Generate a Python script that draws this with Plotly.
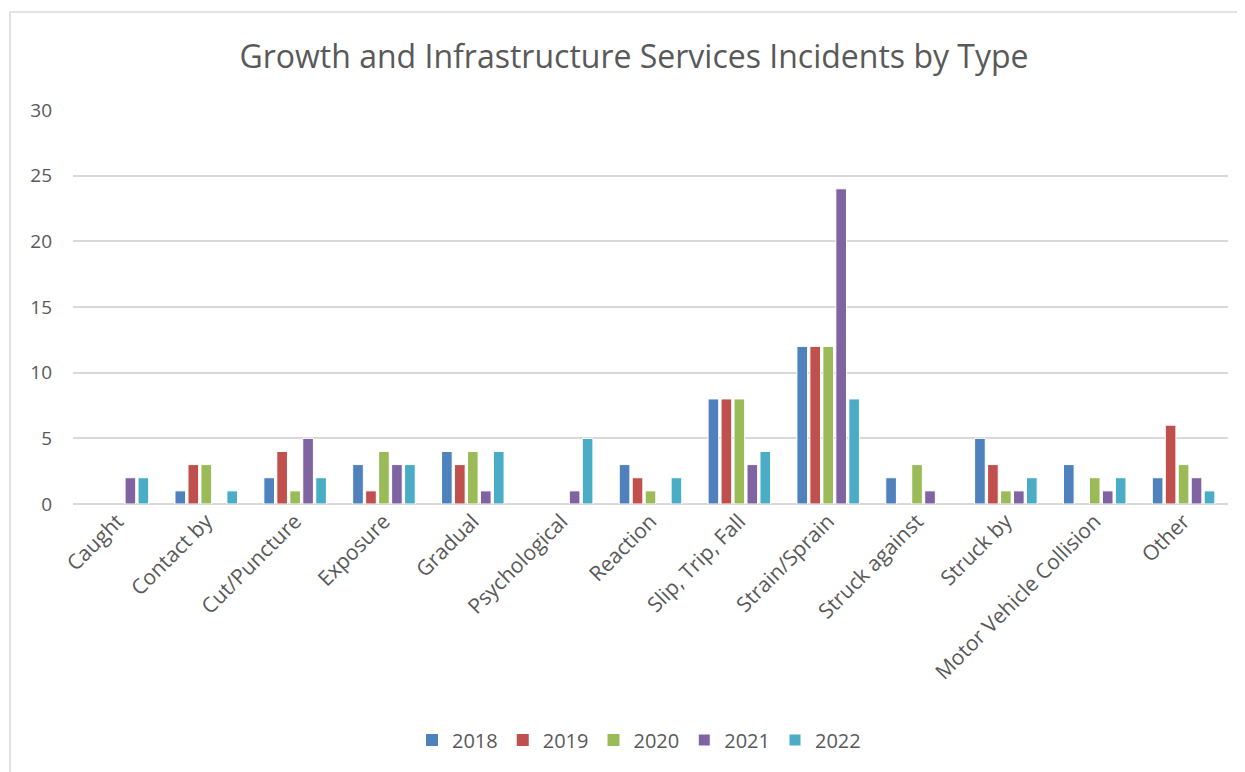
import plotly.graph_objects as go

categories = ["Caught", "Contact by", "Cut/Puncture", "Exposure", "Gradual", "Psychological",
              "Reaction", "Slip, Trip, Fall", "Strain/Sprain", "Struck against", "Struck by",
              "Motor Vehicle Collision", "Other"]
years = ["2018", "2019", "2020", "2021", "2022"]
v2018 = [0, 1, 2, 3, 4, 0, 3, 8, 12, 2, 5, 3, 2]
v2019 = [0, 3, 4, 1, 3, 0, 2, 8, 12, 0, 3, 0, 6]
v2020 = [0, 3, 1, 4, 4, 0, 1, 8, 12, 3, 1, 2, 3]
v2021 = [2, 0, 5, 3, 1, 1, 0, 3, 24, 1, 1, 1, 2]
v2022 = [2, 1, 2, 3, 4, 5, 2, 4, 8, 0, 2, 2, 1]
series = [v2018, v2019, v2020, v2021, v2022]
colors = ["#4F81BD", "#C0504D", "#9BBB59", "#8064A2", "#4BACC6"]

fig = go.Figure()
for name, vals, c in zip(years, series, colors):
    fig.add_trace(go.Bar(x=categories, y=vals, name=name,
                         marker=dict(color=c,
                                     line=dict(color="white",
                                               width=[1 if v else 0 for v in vals]))))

OFF = 8  # page body margin
W, H = 1245 - OFF, 772 - OFF
L = 73 - OFF
T = 110 - OFF
R = W - (1228 - OFF)
B = H - (504 - OFF)
pw, ph = W - L - R, H - T - B

fig.update_layout(
    width=W, height=H,
    margin=dict(l=L, r=R, t=T, b=B),
    paper_bgcolor="white", plot_bgcolor="white",
    font=dict(family="Open Sans, Liberation Sans, sans-serif", color="#595959"),
    title=dict(text="Growth and Infrastructure Services Incidents by Type",
               x=(634 - OFF) / W, xanchor="center", y=1 - (57 - OFF) / H, yanchor="middle",
               font=dict(size=32, color="#595959")),
    barmode="group", bargap=0.27, bargroupgap=0.18,
    xaxis=dict(tickangle=-45, tickfont=dict(size=21, color="#595959"),
               showline=False, ticks="", showgrid=False),
    yaxis=dict(range=[0, 30], dtick=5, showgrid=True, gridcolor="#d9d9d9", gridwidth=1.5,
               zeroline=True, zerolinecolor="#d9d9d9", zerolinewidth=1.5,
               tickfont=dict(size=19, color="#595959"), ticks="", ticklabelstandoff=20),
    legend=dict(orientation="h", x=(639 - OFF - L) / pw, xanchor="center",
                y=((504 - OFF) - (740 - OFF)) / ph, yanchor="middle",
                font=dict(size=20, color="#595959"), itemwidth=30, traceorder="normal"),
    shapes=[dict(type="rect", xref="paper", yref="paper",
                 x0=(10 - OFF - L) / pw, x1=(1250 - OFF - L) / pw,
                 y0=((504 - OFF) - (780 - OFF)) / ph, y1=((504 - OFF) - (12 - OFF)) / ph,
                 line=dict(color="#d9d9d9", width=1.5), fillcolor="rgba(0,0,0,0)", layer="below")],
)

fig.write_html("out.html")
